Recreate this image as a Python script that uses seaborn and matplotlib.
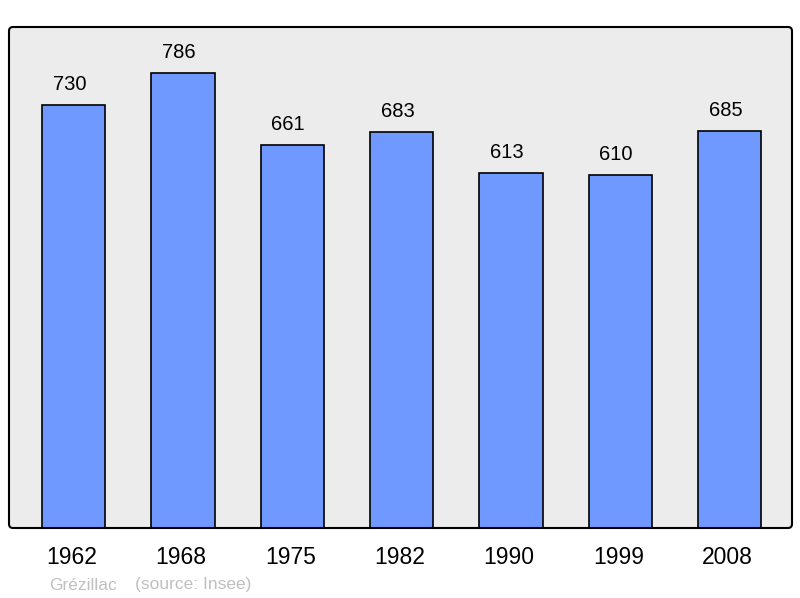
import matplotlib
matplotlib.use('Agg')
import pandas as pd
import seaborn as sns
import matplotlib.pyplot as plt
import matplotlib.transforms as mtransforms
from matplotlib.patches import FancyBboxPatch

annees = ['1962', '1968', '1975', '1982', '1990', '1999', '2008']
population = [730, 786, 661, 683, 613, 610, 685]
commune = 'Grézillac'
source = '(source: Insee)'

df = pd.DataFrame({'annee': annees, 'pop': population})

sns.set_style('white')
plt.rcParams['font.family'] = ['Liberation Sans', 'DejaVu Sans']
plt.rcParams['text.color'] = 'black'
plt.rcParams['xtick.color'] = 'black'

fig = plt.figure(figsize=(8, 5.98), dpi=100)
ax = fig.add_axes([0.01125, 0.117, 0.97875, 0.838])
ax.set_facecolor('none')

# cadre aux coins arrondis (fond + bordure)
for z, fc, ec in [(-1, '#ececec', 'none'), (5, 'none', 'black')]:
    fig.patches.append(FancyBboxPatch((0.09, 0.70), 7.83, 5.01,
                                      boxstyle='round,pad=0,rounding_size=0.04',
                                      facecolor=fc, edgecolor=ec, linewidth=1.5,
                                      transform=fig.dpi_scale_trans, zorder=z))

sns.barplot(data=df, x='annee', y='pop', color='#7099ff', saturation=1,
            width=0.58, edgecolor='black', linewidth=1.2, ax=ax)

# valeurs au-dessus des barres
for i, v in enumerate(population):
    ax.annotate(str(v), (i, v), xytext=(-3, 8), textcoords='offset points',
                ha='center', va='bottom', fontsize=14.5, color='black')

ax.set_xlim(-0.59, 6.57)
ax.set_ylim(0, 865)
ax.set_yticks([])
ax.set_xlabel('')
ax.set_ylabel('')
ax.tick_params(axis='x', length=0, pad=13, labelsize=16.5)
decalage = mtransforms.ScaledTranslation(-0.02, 0, fig.dpi_scale_trans)
for lab in ax.get_xticklabels():
    lab.set_transform(lab.get_transform() + decalage)
for s in ax.spines.values():
    s.set_visible(False)

fig.text(49 / 800, 1 - 585 / 598, commune, color='#c0c0c0', fontsize=12.5, va='center')
fig.text(135 / 800, 1 - 585 / 598, source, color='#c0c0c0', fontsize=12.5, va='center')

fig.savefig('out.png', dpi=100)
